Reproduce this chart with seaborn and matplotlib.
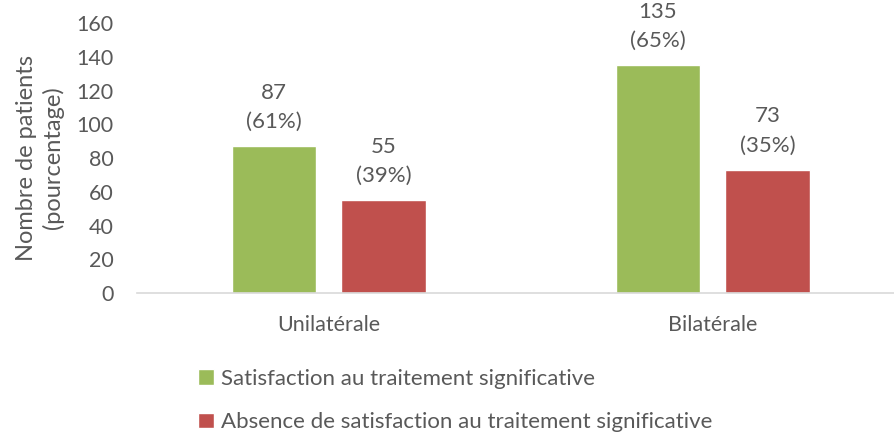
import pandas as pd
import numpy as np
import matplotlib
matplotlib.use("Agg")
import matplotlib.pyplot as plt
import seaborn as sns

categories = ["Unilatérale", "Bilatérale"]
series = ["Satisfaction au traitement significative",
          "Absence de satisfaction au traitement significative"]
satisfied = [87, 135]
not_satisfied = [55, 73]
pct_satisfied = [61, 65]
pct_not_satisfied = [39, 35]
colors = ["#9BBB59", "#C0504D"]

df = pd.DataFrame({
    "cat": categories * 2,
    "serie": [series[0]] * 2 + [series[1]] * 2,
    "n": satisfied + not_satisfied,
    "pct": pct_satisfied + pct_not_satisfied,
})

sns.set_style("white")
plt.rcParams["font.family"] = ["Lato", "DejaVu Sans"]
txt = "#595959"

fig = plt.figure(figsize=(8.94, 4.34), dpi=100)
ax = fig.add_axes([0.1532, 0.3249, 0.85, 0.622])

sns.barplot(data=df, x="cat", y="n", hue="serie", palette=colors,
            width=0.572, gap=0.23, saturation=1, ax=ax, legend=True)

for cont, (vals, pcts) in zip(ax.containers, [(satisfied, pct_satisfied),
                                              (not_satisfied, pct_not_satisfied)]):
    labels = [f"{v}\n({p}%)" for v, p in zip(vals, pcts)]
    ax.bar_label(cont, labels=labels, padding=10, fontsize=16, color=txt,
                 linespacing=1.6)

ax.set_ylim(0, 160)
ax.set_yticks(np.arange(0, 161, 20))
ax.set_xlim(-0.5, 1.48)
ax.set_xlabel("")
ax.set_ylabel("Nombre de patients\n(pourcentage)", fontsize=17, color=txt,
              linespacing=1.25, labelpad=9)
ax.tick_params(axis="y", length=0, labelsize=15.5, labelcolor=txt, pad=17)
ax.tick_params(axis="x", length=0, labelsize=15.5, labelcolor=txt, pad=16)
for s in ["top", "right", "left"]:
    ax.spines[s].set_visible(False)
ax.spines["bottom"].set_color("#D9D9D9")
ax.spines["bottom"].set_linewidth(1.2)

h, l = ax.get_legend_handles_labels()
ax.get_legend().remove()
fig.legend(h, l, loc="upper left", bbox_to_anchor=(0.222, 0.15),
           frameon=False, fontsize=16, labelcolor=txt, handlelength=0.7,
           handleheight=0.7, handletextpad=0.3, labelspacing=1.05,
           borderaxespad=0, borderpad=0)

fig.savefig("out.png", dpi=100)
